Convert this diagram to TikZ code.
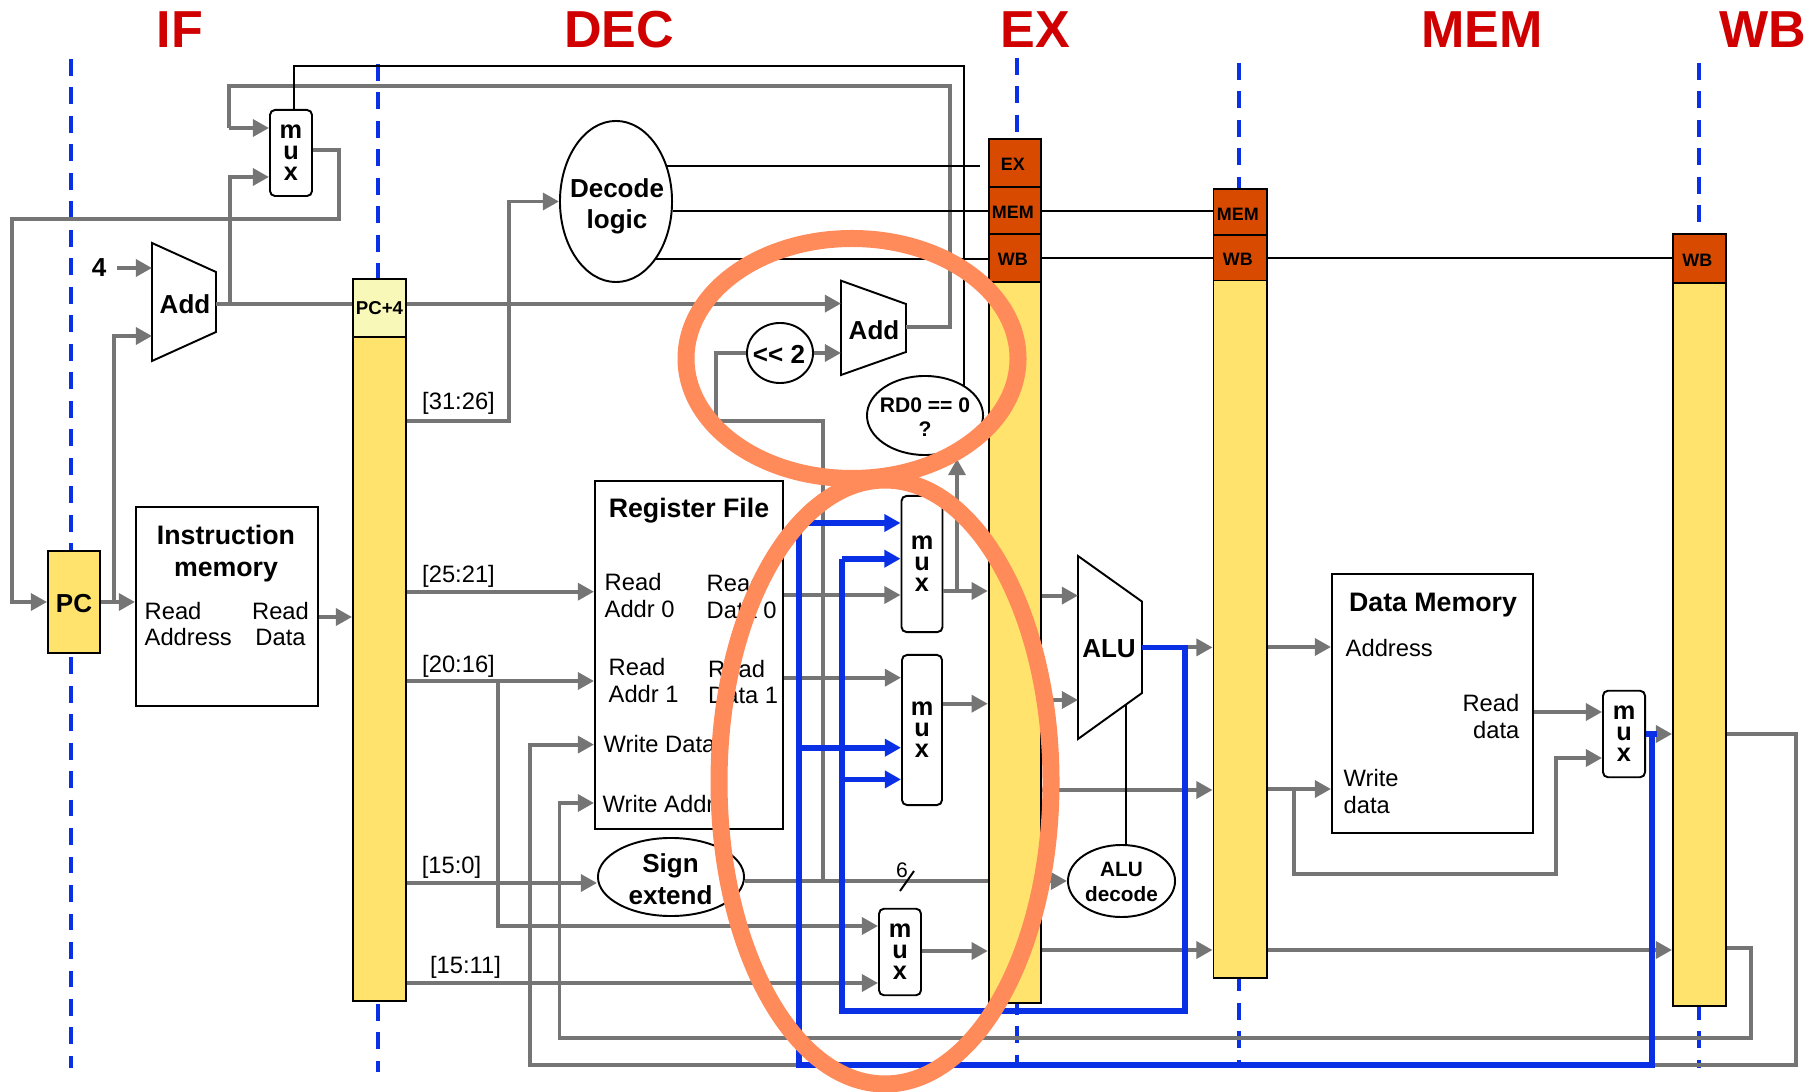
\documentclass[tikz,border=0pt]{standalone}
\usepackage{fontspec}
\setmainfont{Liberation Sans}
\usepackage{xcolor}
\usepackage{tikz}
\usetikzlibrary{arrows.meta,shapes.geometric}
\definecolor{dpgray}{HTML}{757575}
\definecolor{dpblue}{HTML}{0A30E6}
\definecolor{dpred}{HTML}{D00000}
\definecolor{dpyellow}{HTML}{FFE36C}
\definecolor{dppale}{HTML}{F8F8B8}
\definecolor{dporange}{HTML}{D84A00}
\definecolor{dpring}{HTML}{FF8A5A}
\tikzset{
  dpstage/.style={line width=1.15pt, draw=dpblue, dash pattern=on 4.8pt off 3.3pt},
  dpwire/.style={line width=1.1pt, draw=dpgray},
  dparrow/.style={dpwire, -{Triangle[length=4.6pt,width=4.8pt]}},
  dpctrl/.style={line width=0.55pt, draw=black},
  dpfwd/.style={line width=1.6pt, draw=dpblue},
  dpfwdarrow/.style={dpfwd, -{Triangle[length=4.6pt,width=4.8pt]}},
  dpoutline/.style={rectangle, draw=black, line width=0.55pt, inner sep=0pt},
  dpreg/.style={dpoutline, fill=dpyellow},
  dpctlbox/.style={dpoutline, fill=dporange, text height=4.45pt, text depth=0pt, font=\fontsize{5.1}{6}\selectfont\bfseries, execute at end node=\hspace{1.2pt}},
  dpmux/.style={dpoutline, fill=white, rounded corners=0.05cm, align=center, font=\fontsize{7.2}{5.95}\selectfont\bfseries},
  dpoval/.style={ellipse, draw=black, line width=0.55pt, fill=white, inner sep=0pt},
  dpunit/.style={line width=0.55pt, draw=black, fill=white, line join=miter},
  dpname/.style={inner sep=0pt, align=center, font=\fontsize{7.4}{9}\selectfont\bfseries},
  dptext/.style={inner sep=0pt, align=left, font=\fontsize{6.75}{7.66}\selectfont},
  dpbits/.style={inner sep=0pt, font=\fontsize{6.75}{8}\selectfont},
  dptitle/.style={inner sep=0pt, anchor=base, text=dpred, font=\fontsize{14.8}{16}\selectfont\bfseries},
  dpringline/.style={line width=17*0.2845pt, draw=dpring},
}

\begin{document}
\begin{tikzpicture}[x=0.01cm,y=-0.01cm]
\useasboundingbox (0,0) rectangle (1810,1092);
% stage titles
\node[dptitle] (tif) at (180,48) {IF};
\node[dptitle] (tdec) at (619,48) {DEC};
\node[dptitle] (tex) at (1035,48) {EX};
\node[dptitle] (tmem) at (1482,48) {MEM};
\node[dptitle] (twb) at (1763,48) {WB};
% stage borders
\draw[dpstage] (71,59) -- (71,1068);
\draw[dpstage] (378,64) -- (378,1072);
\draw[dpstage] (1017,58) -- (1017,1068);
\draw[dpstage] (1239,63) -- (1239,1068);
\draw[dpstage] (1699,63) -- (1699,1068);
% pipeline registers
\node[dpreg, minimum width=0.52cm, minimum height=1.02cm, text height=5.9pt, text depth=0pt, font=\fontsize{7.4}{9}\selectfont\bfseries] (pc) at (74,602) {PC};
\node[dpreg, minimum width=0.53cm, minimum height=6.64cm] (ifid) at (379.5,669) {};
\node[dpoutline, fill=dppale, minimum width=0.53cm, minimum height=0.584cm, font=\fontsize{5.3}{6}\selectfont\bfseries] (ifidpc) at (379.5,308) {PC+4};
\node[dpreg, minimum width=0.525cm, minimum height=7.21cm] (idex) at (1015,642) {};
\node[dpctlbox, minimum width=0.525cm, minimum height=0.477cm] (idexex) at (1015,163) {EX};
\node[dpctlbox, minimum width=0.525cm, minimum height=0.47cm] (idexmem) at (1015,210.2) {MEM};
\node[dpctlbox, minimum width=0.525cm, minimum height=0.48cm] (idexwb) at (1015,257.7) {WB};
\node[dpreg, minimum width=0.53cm, minimum height=6.97cm] (exmem) at (1240,629) {};
\node[dpctlbox, minimum width=0.53cm, minimum height=0.465cm] (exmemmem) at (1240,212.2) {MEM};
\node[dpctlbox, minimum width=0.53cm, minimum height=0.45cm] (exmemwb) at (1240,258) {WB};
\node[dpreg, minimum width=0.53cm, minimum height=7.23cm] (memwb) at (1699.5,644.5) {};
\node[dpctlbox, minimum width=0.53cm, minimum height=0.49cm] (memwbwb) at (1699.5,258.5) {WB};
% memories and register file
\node[dpoutline, minimum width=1.82cm, minimum height=1.985cm] (imem) at (227,606.75) {};
\node[dpname, font=\fontsize{7.6}{9}\selectfont\bfseries] (imemname) at (226,553.5) {Instruction\\memory};
\node[dptext, anchor=west] (imemaddr) at (144,624) {Read\\Address};
\node[dptext, anchor=center, align=center] (imemdata) at (280.5,624) {Read\\Data};
\node[dpoutline, minimum width=1.88cm, minimum height=3.48cm] (regfile) at (689,655.2) {};
\node[dpname, font=\fontsize{7.6}{9}\selectfont\bfseries] (regname) at (689,510.5) {Register File};
\node[dptext, anchor=west] (raddra) at (604,595.5) {Read\\Addr 0};
\node[dptext, anchor=west] (rdataa) at (706,596.5) {Read\\Data 0};
\node[dptext, anchor=west] (raddrb) at (608,680.5) {Read\\Addr 1};
\node[dptext, anchor=west] (rdatab) at (707.5,682) {Read\\Data 1};
\node[dptext, anchor=west] (wdata) at (603,744) {Write Data};
\node[dptext, anchor=west] (waddr) at (602,804) {Write Addr};
\node[dpoutline, minimum width=2.01cm, minimum height=2.58cm] (dmem) at (1432.5,703.5) {};
\node[dpname, font=\fontsize{7.6}{9}\selectfont\bfseries] (dmemname) at (1433,605) {Data Memory};
\node[dptext, anchor=west] (dmemaddr) at (1345,648.5) {Address};
\node[dptext, anchor=east, align=right] (dmemread) at (1520,716.5) {Read\\data};
\node[dptext, anchor=west] (dmemwrite) at (1343,791.3) {Write\\data};
% adders and alu
\draw[dpunit] (152,243) coordinate (addanw) -- (216,272) coordinate (addane) -- (216,332) coordinate (addase) -- (152,361) coordinate (addasw) -- cycle;
\node[dpname] (addaname) at (185,304) {Add};
\draw[dpunit] (841,280.7) coordinate (addbnw) -- (906,304) coordinate (addbne) -- (906,352) coordinate (addbse) -- (841,375) coordinate (addbsw) -- cycle;
\node[dpname] (addbname) at (874,330) {Add};
\draw[dpunit] (1078,556) coordinate (alunw) -- (1142,601.6) coordinate (alune) -- (1142,693) coordinate (aluse) -- (1078,739) coordinate (alusw) -- cycle;
\node[dpname] (aluname) at (1109,649) {ALU};
\node[dpname] (four) at (99,268) {4};
% muxes
\node[dpmux, minimum width=0.42cm, minimum height=0.86cm] (muxpc) at (291,153) {m\\u\\x};
\node[dpmux, minimum width=0.41cm, minimum height=1.36cm] (muxa) at (922,564) {m\\u\\x};
\node[dpmux, minimum width=0.40cm, minimum height=1.50cm] (muxb) at (922,730) {m\\u\\x};
\node[dpmux, minimum width=0.42cm, minimum height=0.865cm] (muxc) at (900,952) {m\\u\\x};
\node[dpmux, minimum width=0.42cm, minimum height=0.865cm] (muxd) at (1624,734) {m\\u\\x};
% ovals
\node[dpoval, minimum width=1.12cm, minimum height=1.61cm] (decode) at (616,201.5) {};
\node[dpname] (decodename) at (617,206.5) {Decode\\logic};
\node[dpoval, minimum width=0.66cm, minimum height=0.60cm] (shift) at (780,353) {};
\node[dpname] (shiftname) at (779,354) {<{}< 2};
\node[dpoval, minimum width=1.16cm, minimum height=0.79cm] (rdzero) at (925,415.5) {};
\node[dpname, font=\fontsize{6}{6.8}\selectfont\bfseries] (rdzeroname) at (925,417) {RD0 == 0\\?};
\node[dpoval, minimum width=1.46cm, minimum height=0.78cm] (signext) at (671,877) {};
\node[dpname] (signextname) at (670.5,879.5) {Sign\\extend};
\node[dpoval, minimum width=1.07cm, minimum height=0.72cm] (aludec) at (1121.5,881) {};
\node[dpname, font=\fontsize{5.9}{6.9}\selectfont\bfseries] (aludecname) at (1121.5,882) {ALU\\decode};
% wire labels
\node[dpbits] (bitsop) at (458.5,403) {[31:26]};
\node[dpbits] (bitsrs) at (458.5,576) {[25:21]};
\node[dpbits] (bitsrt) at (458.5,666.3) {[20:16]};
\node[dpbits] (bitsimm) at (451.5,867.3) {[15:0]};
\node[dpbits] (bitsrd) at (465.5,967.3) {[15:11]};
\node[dpbits, font=\fontsize{6}{7}\selectfont] (bitssix) at (902,870) {6};
% junctions
\coordinate (addabr) at (230,303.6);
\coordinate (pcbr) at (114,602);
\coordinate (rtbr) at (498,681);
\coordinate (immbr) at (823,881);
\coordinate (muxabr) at (957,591);
\coordinate (rdtip) at (957,459);
\coordinate (ctrlbr) at (964,66);
\coordinate (exstop) at (980,166);
\coordinate (wdbr) at (1294,789);
\coordinate (aluctl) at (1126,705);
\coordinate (aluout) at (1185,647.4);
\coordinate (fwdalu) at (842,779.4);
\coordinate (fwdmem) at (799,747.7);
\coordinate (wbout) at (1652,734);
\coordinate (wbstub) at (1657,734);
% gray datapath
\draw[dpwire] (addbne |- 0,327) -- (950,327) -- (950,86) -- (229,86) -- (229,128);
\draw[dparrow] (229,128) -- (muxpc.west |- 0,128);
\draw[dpwire] (addane |- 0,303.6) -- (ifidpc.west |- 0,303.6);
\draw[dparrow] (addabr) -- (230,177) -- (muxpc.west |- 0,177);
\draw[dparrow] (muxpc.east |- 0,150) -- (339,150) -- (339,218.6) -- (12,218.6) -- (12,602) -- (pc.west);
\draw[dparrow] ([xshift=0.1cm]four.east) -- (addanw |- four.east);
\draw[dparrow] (pc.east) -- (imem.west |- pc.east);
\draw[dparrow] (pcbr) -- (114,336) -- (addanw |- 0,336);
\draw[dparrow] (imem.east |- 0,617) -- (ifid.west |- 0,617);
\draw[dparrow] (ifidpc.east |- 0,303.6) -- (addbnw |- 0,303.6);
\draw[dparrow] (ifid.east |- 0,421) -- (509,421) |- (decode.west);
\draw[dparrow] (ifid.east |- 0,591.7) -- (regfile.west |- 0,591.7);
\draw[dparrow] (ifid.east |- 0,681) -- (regfile.west |- 0,681);
\draw[dparrow] (rtbr) -- (498,926) -- (muxc.west |- 0,926);
\draw[dparrow] (ifid.east |- 0,883) -- (signext.west |- 0,883);
\draw[dparrow] (ifid.east |- 0,983) -- (muxc.west |- 0,983);
\draw[dparrow] (memwb.east |- 0,734) -- (1796,734) -- (1796,1065) -- (530,1065) -- (530,744.6) -- (regfile.west |- 0,744.6);
\draw[dparrow] (memwb.east |- 0,948) -- (1750.6,948) -- (1750.6,1038) -- (559.5,1038) -- (559.5,803) -- (regfile.west |- 0,803);
\draw[dparrow] (regfile.east |- 0,595) -- (muxa.west |- 0,595);
\draw[dparrow] (regfile.east |- 0,677.7) -- (muxb.west |- 0,677.7);
\draw[dpwire] (signext.east |- 0,881) -- (idex.west |- 0,881);
\draw[dpwire] (immbr) -- (823,421) -- (716,421) -- (716,353) -- (shift.west);
\draw[dparrow] (shift.east) -- (addbnw |- shift.east);
\draw[dparrow] (muxa.east |- 0,591) -- (idex.west |- 0,591);
\draw[dparrow] (muxabr) -- (rdtip);
\draw[dparrow] (muxb.east |- 0,703.7) -- (idex.west |- 0,703.7);
\draw[dparrow] (muxc.east |- 0,951) -- (idex.west |- 0,951);
\draw[dparrow] (idex.east |- 0,595.6) -- (alunw |- 0,595.6);
\draw[dparrow] (idex.east |- 0,700) -- (alunw |- 0,700);
\draw[dparrow] (idex.east |- 0,881) -- (aludec.west);
\draw[dparrow] (idex.east |- 0,790) -- (exmem.west |- 0,790);
\draw[dparrow] (idex.east |- 0,950) -- (exmem.west |- 0,950);
\draw[dparrow] (alune |- 0,647.4) -- (exmem.west |- 0,647.4);
\draw[dparrow] (exmem.east |- 0,647) -- (dmem.west |- 0,647);
\draw[dparrow] (exmem.east |- 0,789) -- (dmem.west |- 0,789);
\draw[dparrow] (wdbr) -- (1294,873.7) -- (1556,873.7) -- (1556,758) -- (muxd.west |- 0,758);
\draw[dparrow] (dmem.east |- 0,712) -- (muxd.west |- 0,712);
\draw[dparrow] (muxd.east |- 0,734) -- (memwb.west |- 0,734);
\draw[dparrow] (exmem.east |- 0,950) -- (memwb.west |- 0,950);
% control lines
\draw[dpctrl] (muxpc.north -| 294,0) -- (294,66) -- (ctrlbr) -- (ctrlbr |- rdzero.north east);
\draw[dpctrl] (decode.35) -- (exstop |- decode.35);
\draw[dpctrl] (decode.east |- 0,211) -- (idexmem.west |- 0,211);
\draw[dpctrl] (decode.-55) -- (idexwb.west |- decode.-55);
\draw[dpctrl] (idexmem.east |- 0,211) -- (exmemmem.west |- 0,211);
\draw[dpctrl] (idexwb.east |- 0,258) -- (exmemwb.west |- 0,258);
\draw[dpctrl] (exmemwb.east |- 0,258) -- (memwbwb.west |- 0,258);
\draw[dpctrl] (aludec.north -| aluctl) -- (aluctl);
\draw[dpctrl] ([xshift=0.12cm,yshift=-0.01cm]bitssix.center) -- ([xshift=-0.02cm,yshift=-0.21cm]bitssix.center);
% forwarding
\draw[dpfwd] (alune |- 0,647.4) -- (aluout) -- (1185,1010.8) -- (842,1010.8) -- (842,558.7);
\draw[dpfwdarrow] (842,558.7) -- (muxa.west |- 0,558.7);
\draw[dpfwdarrow] (fwdalu) -- (muxb.west |- fwdalu);
\draw[dpfwd] (muxd.east |- wbstub) -- (wbstub);
\draw[dpfwd] (wbout) -- (1652,1065) -- (799,1065) -- (799,523);
\draw[dpfwdarrow] (799,523) -- (muxa.west |- 0,523);
\draw[dpfwdarrow] (fwdmem) -- (muxb.west |- fwdmem);
% highlights
\draw[dpringline] (852,358.5) ellipse [x radius=166, y radius=120];
\draw[dpringline] (885,782) ellipse [x radius=166, y radius=302];
\end{tikzpicture}
\end{document}
